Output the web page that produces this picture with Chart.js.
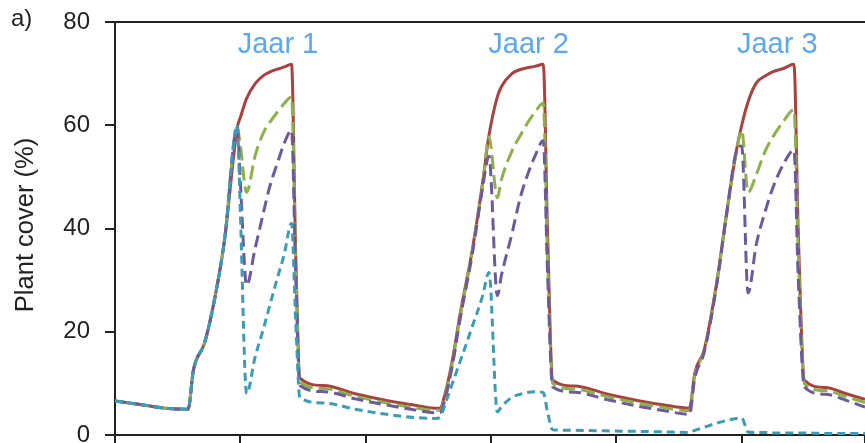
<!DOCTYPE html>
<html>
<head>
<meta charset="utf-8">
<script src="https://cdn.jsdelivr.net/npm/chart.js@4"></script>
<style>
  body { margin: 0; background: #fff; }
  #wrap { width: 865px; height: 443px; }
</style>
</head>
<body>
<div id="wrap"><canvas id="coverChart"></canvas></div>
<script>
// time axis in months (3 growing seasons)
const months = [
  0, 1.2, 2.4, 3.5, 3.75, 4.3, 4.8, 5.25, 5.85,
  6.0, 6.3, 6.7, 7.1, 7.4, 7.8, 8.1, 8.45,
  8.65, 8.85,
  10, 11.5, 13, 14.3, 15.3,
  15.55, 15.8, 16.15, 16.5, 17.1, 17.6, 17.9,
  18.3, 18.5, 19.0, 19.4, 19.8, 20.1, 20.5,
  20.7, 20.95,
  22, 23.5, 25, 26.3, 27.5,
  27.75, 28.2, 28.8, 29.25, 29.75, 30.0,
  30.3, 30.7, 31.1, 31.5, 32.0, 32.5,
  32.7, 33.0,
  34.0, 35.0, 35.9,
];

// plant cover (%) per scenario
const coverRed = [
  6.6, 5.9, 5.2, 5.0, 12.5, 18, 27, 38, 59.5,
  61.5, 65.2, 68.0, 69.6, 70.3, 70.9, 71.3, 71.8,
  35, 11,
  9.6, 8.0, 6.7, 5.8, 5.2,
  5.2, 8, 14.5, 23, 35.8, 49, 58,
  65.5, 67.5, 70, 70.8, 71.2, 71.4, 71.8,
  40, 10.6,
  9.5, 8.0, 6.7, 5.8, 5.2,
  12, 16.5, 29.5, 42.3, 55.2, 60,
  64.5, 68.2, 69.5, 70.4, 71.0, 71.8,
  40, 10.6,
  9.2, 8.0, 6.9,
];
const coverGreen = [
  6.6, 5.9, 5.2, 5.0, 12.5, 18, 27, 38, 59.5,
  56, 47, 54, 58.5, 60.5, 62.7, 64.2, 65.5,
  34, 10.3,
  9.0, 7.5, 6.2, 5.3, 4.8,
  4.8, 7.5, 14, 22.5, 35.5, 48.5, 57.7,
  46, 49.5, 55, 58, 60.8, 62.5, 64.3,
  35, 10,
  8.9, 7.5, 6.2, 5.3, 4.7,
  11.5, 16.3, 29.3, 42, 55, 59,
  47, 50.5, 54.8, 57.8, 60.8, 63,
  36, 10,
  8.6, 7.4, 6.3,
];
const coverPurple = [
  6.6, 5.9, 5.2, 5.0, 12.5, 18, 27, 38, 59.5,
  49, 29, 36, 43, 48, 53, 56.5, 59,
  31, 9.6,
  8.4, 7.0, 5.8, 4.9, 4.3,
  4.3, 7, 13.5, 22, 35, 48, 54,
  27, 31, 39, 46, 51, 54, 57,
  32, 9.3,
  8.3, 6.9, 5.6, 4.7, 4.0,
  11, 16, 29, 42, 55, 56,
  27.5, 37, 43, 48, 52.5, 55.2,
  31, 9.3,
  7.9, 6.7, 5.4,
];
const coverTeal = [
  6.6, 5.9, 5.2, 5.0, 12.5, 18, 27, 38, 60,
  43, 8, 15, 20.5, 25, 30.8, 35, 41,
  22, 7.2,
  6.2, 5.0, 4.0, 3.4, 3.2,
  3.4, 6, 10, 14, 21, 27, 31.5,
  4.5, 5.5, 7.3, 7.9, 8.3, 8.4, 8.2,
  4.5, 1.0,
  0.9, 0.8, 0.7, 0.6, 0.5,
  0.9, 1.5, 2.3, 2.8, 3.2, 3.3,
  0.6, 0.5, 0.5, 0.4, 0.4, 0.4,
  0.4, 0.4,
  0.3, 0.3, 0.3,
];

const yTicks = [0, 20, 40, 60, 80];
const yearLabels = ["Jaar 1", "Jaar 2", "Jaar 3"];
const yearLabelMonths = [7.8, 19.8, 31.7];

const FONT = "'Liberation Sans', Arial, sans-serif";

function toPoints(values) {
  return values.map((v, i) => ({ x: months[i], y: v }));
}

// frame line on top, panel letter, y title and year labels
const extras = {
  id: "extras",
  afterDraw(chart) {
    const { ctx, chartArea } = chart;
    const xs = chart.scales.x;
    ctx.save();
    ctx.strokeStyle = "#222";
    ctx.lineWidth = 2;
    ctx.beginPath();
    ctx.moveTo(chartArea.left, chartArea.top);
    ctx.lineTo(chartArea.right, chartArea.top);
    ctx.stroke();

    ctx.fillStyle = "#222";
    ctx.font = "24px " + FONT;
    ctx.textAlign = "left";
    ctx.textBaseline = "middle";
    ctx.fillText("a)", 11, 19);

    // axis title, a bit above the centre like the original
    ctx.save();
    ctx.translate(26, 225);
    ctx.rotate(-Math.PI / 2);
    ctx.font = "25.5px " + FONT;
    ctx.textAlign = "center";
    ctx.fillText("Plant cover (%)", 0, 0);
    ctx.restore();

    ctx.fillStyle = "#5ba8ee";
    ctx.font = "29px " + FONT;
    ctx.textAlign = "center";
    ctx.textBaseline = "alphabetic";
    yearLabels.forEach((t, i) => {
      ctx.fillText(t, xs.getPixelForValue(yearLabelMonths[i]), 53);
    });
    ctx.restore();
  },
};

const lineStyle = {
  pointRadius: 0,
  borderWidth: 3,
  cubicInterpolationMode: "monotone",
  borderJoinStyle: "round",
  fill: false,
};

window.onload = function () {
  const ctx = document.getElementById("coverChart").getContext("2d");

  new Chart(ctx, {
    type: "line",
    data: {
      datasets: [
        { ...lineStyle, label: "red", data: toPoints(coverRed), borderColor: "#a8423f", order: 4 },
        { ...lineStyle, label: "green", data: toPoints(coverGreen), borderColor: "#8db04b", borderDash: [14, 6], order: 3 },
        { ...lineStyle, label: "purple", data: toPoints(coverPurple), borderColor: "#6c5a9a", borderDash: [12, 6], order: 2 },
        { ...lineStyle, label: "teal", data: toPoints(coverTeal), borderColor: "#3d9cb5", borderDash: [8, 5], order: 1 },
      ],
    },
    options: {
      responsive: true,
      maintainAspectRatio: false,
      animation: false,
      layout: { padding: { top: 22, left: 0, right: 0, bottom: 0 } },
      plugins: {
        legend: { display: false },
        tooltip: { enabled: false },
      },
      scales: {
        x: {
          type: "linear",
          min: 0,
          max: 35.9,
          ticks: { display: false, stepSize: 6 },
          grid: { drawOnChartArea: false, tickLength: 8, color: "#222", lineWidth: 2 },
          border: { color: "#222", width: 2 },
        },
        y: {
          min: 0,
          max: 80,
          afterBuildTicks(scale) {
            scale.ticks = yTicks.map((v) => ({ value: v }));
          },
          afterFit(scale) {
            scale.width = 115;
            scale.paddingTop = 0;
            scale.paddingBottom = 0;
          },
          ticks: { color: "#222", padding: 15, font: { size: 24, family: FONT } },
          grid: { drawOnChartArea: false, tickLength: 10, color: "#222", lineWidth: 2 },
          border: { color: "#222", width: 2 },
        },
      },
    },
    plugins: [extras],
  });
};
</script>
</body>
</html>
